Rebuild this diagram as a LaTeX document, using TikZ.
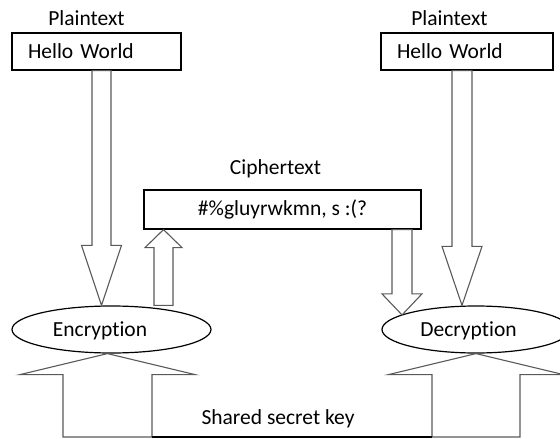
\documentclass[tikz,border=0pt]{standalone}
\usepackage{fontspec}
\setmainfont[Ligatures=NoCommon]{Carlito}
\usetikzlibrary{shapes.geometric,calc}
\newcommand\blockarr[5]{%
	\draw[blkarrow] let \p1=#1, \p2=#2, \n1={(\y2>\y1)*2-1} in
	(\x1-#3pt,\y1)--(\x1-#3pt,\y2-\n1*#5pt)--(\x1-#4pt,\y2-\n1*#5pt)--(\x1,\y2)
	--(\x1+#4pt,\y2-\n1*#5pt)--(\x1+#3pt,\y2-\n1*#5pt)--(\x1+#3pt,\y1)--cycle;}
\begin{document}
\begin{tikzpicture}[x=1pt,y=-1pt,line join=miter]
		\tikzset{every node/.style={font=\fontsize{21.5}{26}\selectfont},
			box/.style={draw,line width=1.2pt,minimum height=37pt,inner ysep=2pt},
			oval/.style={draw,ellipse,line width=1.2pt,minimum height=47pt,inner sep=0pt},
			blkarrow/.style={draw=black!65,line width=1.1pt}}
		\useasboundingbox (0,0) rectangle (560,439);
		\node[box,text width=137pt,align=left,inner xsep=16pt] (plainL) at (96.5,51.5) {Hello World};
		\node[box,text width=140pt,align=left,inner xsep=16pt] (plainR) at (467,51.5) {Hello World};
		\node[box,minimum width=277pt,minimum height=39pt] (cipher) at (282.5,209.5) {\#\%gluyrwkmn, s :(?};
		\node (ptL) at (86.5,18) {Plaintext};
		\node (ptR) at (449.5,18) {Plaintext};
		\node (ctx) at (275.5,169) {Ciphertext};
		\node[oval,minimum width=199pt,label={[xshift=-11.5pt,yshift=-1pt]center:Encryption}] (enc) at (111.5,329.5) {};
		\node[oval,minimum width=188pt,label={[xshift=-7.5pt,yshift=-1pt]center:Decryption}] (dec) at (476,329.5) {};
		\coordinate (keyL) at (107.5,437);
		\coordinate (keyR) at (476,437);
		\blockarr{(101.5,0 |- plainL.south)}{(101.5,0 |- enc.north)}{9.5}{20}{60}
		\blockarr{(462,0 |- plainR.south)}{(462,0 |- dec.north)}{10}{20}{59}
		\blockarr{(163.5,0 |- enc.north)}{(163.5,0 |- cipher.south)}{9.5}{18.5}{18}
		\blockarr{(402,0 |- cipher.south)}{(402,0 |- dec.169)}{10}{20}{21}
		\blockarr{(keyL)}{(107.5,0 |- enc.south)}{44.5}{87.5}{21}
		\blockarr{(keyR)}{(dec.south)}{44}{87.5}{21}
		\draw[line width=1.3pt] ([xshift=44.5pt]keyL)--([xshift=-44pt]keyR);
		\node (key) at (278,419) {Shared secret key};
	\end{tikzpicture}
\end{document}
